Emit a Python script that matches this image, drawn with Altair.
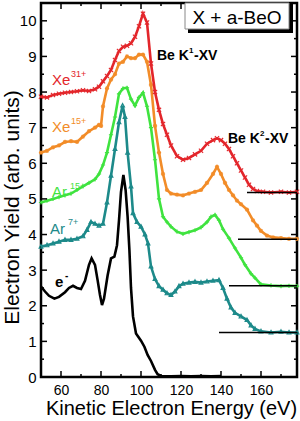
import altair as alt
import pandas as pd

# ---------------- data ----------------
red_x = [50, 53, 56, 59, 62, 65, 68, 71, 74, 77, 79, 81, 83, 85, 87, 89, 91, 93, 95, 97, 99, 101, 103,
         105, 107, 109, 111, 113, 115, 118, 121, 124, 127, 130, 133, 136, 138, 140, 142, 144, 146, 148,
         150, 152, 154, 156, 158, 161, 165, 170, 174, 178]
red_y = [7.87, 7.85, 7.92, 7.95, 7.98, 8.0, 8.02, 8.05, 8.03, 8.08, 8.15, 8.3, 8.45, 8.62, 8.9, 9.15,
         9.27, 9.3, 9.37, 9.55, 9.85, 10.2, 9.95, 8.8, 8.0, 7.5, 7.1, 6.8, 6.5, 6.2, 6.1, 6.15, 6.25,
         6.35, 6.55, 6.65, 6.7, 6.65, 6.55, 6.4, 6.2, 6.0, 5.8, 5.6, 5.4, 5.28, 5.22, 5.2, 5.18, 5.2,
         5.18, 5.2]

orange_x = [50, 53, 56, 59, 62, 65, 68, 71, 74, 77, 79, 80, 81, 83, 85, 87, 89, 91, 93, 95, 97, 99,
            101, 103, 105, 107, 109, 111, 113, 115, 118, 121, 124, 127, 130, 133, 136, 138, 140, 142,
            144, 146, 148, 150, 153, 156, 158, 160, 163, 166, 170, 174, 178]
orange_y = [6.3, 6.35, 6.45, 6.5, 6.6, 6.62, 6.6, 6.75, 6.9, 7.0, 7.08, 7.05, 7.6, 8.1, 8.35, 8.5,
            8.8, 8.85, 9.0, 8.95, 8.95, 9.05, 9.05, 8.85, 8.2, 7.05, 6.3, 5.7, 5.25, 5.15, 5.12, 5.1,
            5.15, 5.2, 5.25, 5.45, 5.7, 5.9, 5.7, 5.45, 5.25, 5.1, 4.95, 4.85, 4.7, 4.4, 4.25, 4.1,
            3.97, 3.92, 3.9, 3.88, 3.88]

green_x = [50, 53, 56, 59, 62, 65, 68, 71, 74, 77, 79, 81, 83, 85, 87, 89, 91, 93, 95, 97, 99, 101,
           103, 105, 107, 109, 111, 113, 115, 118, 121, 124, 127, 130, 133, 135, 137, 139, 141, 144,
           147, 150, 152, 155, 157, 160, 165, 170, 174, 178]
green_y = [4.9, 4.95, 5.0, 5.05, 5.1, 5.15, 5.25, 5.35, 5.45, 5.55, 5.7, 5.95, 6.3, 6.8, 7.3, 7.95,
           8.1, 8.12, 7.8, 7.62, 7.85, 7.98, 7.6, 7.0, 6.1, 5.0, 4.5, 4.35, 4.22, 4.08, 4.02, 4.07,
           4.12, 4.2, 4.35, 4.5, 4.55, 4.4, 4.15, 3.9, 3.62, 3.35, 3.15, 2.9, 2.78, 2.6, 2.57, 2.55,
           2.56, 2.55]

teal_x = [50, 53, 56, 59, 62, 65, 68, 71, 73, 75, 77, 79, 81, 83, 85, 87, 89, 90.8, 92, 93.3, 95, 96,
          98, 100, 102, 103.5, 105, 107, 109, 111, 113, 115, 117, 119, 121, 124, 127, 130, 133, 136,
          139, 141, 143, 145, 147, 150, 153, 155, 157, 160, 165, 170, 174, 178]
teal_y = [3.66, 3.7, 3.75, 3.8, 3.85, 3.85, 3.88, 3.95, 4.13, 4.35, 4.3, 4.25, 4.3, 4.9, 5.65, 6.4,
          7.15, 7.62, 7.3, 6.3, 5.35, 4.6, 4.35, 4.22, 4.0, 3.75, 3.1, 2.75, 2.55, 2.45, 2.35, 2.3,
          2.4, 2.55, 2.62, 2.65, 2.67, 2.65, 2.68, 2.7, 2.72, 2.5, 2.2, 1.95, 1.8, 1.7, 1.6, 1.45,
          1.35, 1.28, 1.25, 1.27, 1.25, 1.25]

black_x = [50, 52, 54, 56.7, 59, 62, 64, 66, 68, 70, 72, 74, 75.3, 77, 78.3, 79.5, 80.5, 81.5, 83.3,
           85, 86.7, 88, 89, 90, 91.2, 92.3, 93.3, 94.2, 95, 96, 97.5, 100, 101.7, 103.3, 105, 107,
           108.3, 110, 115, 120, 125, 130, 135, 140]
black_y = [2.54, 2.4, 2.28, 2.2, 2.25, 2.38, 2.5, 2.56, 2.5, 2.47, 2.7, 3.15, 3.33, 3.15, 2.72, 2.3,
           2.02, 2.2, 2.85, 3.33, 3.38, 3.7, 4.4, 5.2, 5.67, 5.25, 4.5, 3.57, 2.5, 1.7, 1.22, 1.02,
           0.85, 0.62, 0.45, 0.2, 0.08, 0.03, 0.02, 0.03, 0.02, 0.03, 0.02, 0.03]

base_start = [153, 148.5, 144, 139]
base_level = [5.18, 3.87, 2.56, 1.25]
base_end = [178, 178, 178, 178]

x_major = [60, 80, 100, 120, 140, 160]
x_minor = [50, 70, 90, 110, 130, 150, 170]
y_major = [0, 1, 2, 3, 4, 5, 6, 7, 8, 9, 10]
y_minor = [0.5, 1.5, 2.5, 3.5, 4.5, 5.5, 6.5, 7.5, 8.5, 9.5, 10.5]

RED, ORANGE, GREEN, TEAL = "#e3262b", "#f28c28", "#3fe33f", "#1d8a8a"
FONT = "Liberation Sans"
W, H = 256, 374

XS = alt.Scale(domain=[50, 178], nice=False, zero=False)
YS = alt.Scale(domain=[0, 10.5], nice=False, zero=False)

XAX = alt.Axis(values=x_major, ticks=False, tickSize=0, domain=False, grid=False,
               labelFontSize=14, labelPadding=6, labelColor="black", labelFont=FONT,
               title="Kinetic Electron Energy (eV)", titleFontSize=20, titleFontWeight="normal",
               titleFont=FONT, titleColor="black", titleX=130, titleY=37, titleAlign="center",
               titleBaseline="alphabetic")
YAX = alt.Axis(values=y_major, ticks=False, tickSize=0, domain=False, grid=False,
               labelFontSize=15, labelPadding=5, labelColor="black", labelFont=FONT,
               title="Electron Yield (arb. units)", titleFontSize=21, titleFontWeight="normal",
               titleFont=FONT, titleColor="black", titleX=-23, titleY=204, titleAngle=270,
               titleAlign="center", titleBaseline="alphabetic")


def X(field):
    return alt.X(field, scale=XS, axis=XAX, title="Kinetic Electron Energy (eV)")


def Y(field):
    return alt.Y(field, scale=YS, axis=YAX, title="Electron Yield (arb. units)")


X_SHAPE = "M-1,-1L1,1M-1,1L1,-1"
STAR = "M0,-1L0,1M-1,0L1,0M-0.7,-0.7L0.7,0.7M-0.7,0.7L0.7,-0.7"
PLUS = "M0,-1L0,1M-1,0L1,0"
TRI = "M0,-1L0.9,0.7L-0.9,0.7Z"


def series(xs, ys, color, shape):
    df = pd.DataFrame({"e": xs, "v": ys})
    line = alt.Chart(df).mark_line(color=color, strokeWidth=2.6).encode(x=X("e:Q"), y=Y("v:Q"))
    if shape is None:
        return [line]
    pts = alt.Chart(df).mark_point(shape=shape, color=color, filled=False, size=18,
                                   strokeWidth=1.1, opacity=1).encode(x=X("e:Q"), y=Y("v:Q"))
    return [line, pts]


layers = []
layers += series(black_x, black_y, "black", None)
layers += series(teal_x, teal_y, TEAL, TRI)
layers += series(green_x, green_y, GREEN, PLUS)
layers += series(orange_x, orange_y, ORANGE, STAR)
layers += series(red_x, red_y, RED, X_SHAPE)

# baselines
bdf = pd.DataFrame({"e": base_start, "e2": base_end, "v": base_level})
layers.append(alt.Chart(bdf).mark_rule(color="black", strokeWidth=1.5).encode(
    x=X("e:Q"), x2="e2:Q", y=Y("v:Q")))


# inward ticks
def xticks(vals, length):
    df = pd.DataFrame({"e": vals})
    b = alt.Chart(df).mark_rule(color="black", strokeWidth=1.5).encode(
        x=X("e:Q"), y=alt.value(H), y2=alt.value(H - length))
    t = alt.Chart(df).mark_rule(color="black", strokeWidth=1.5).encode(
        x=X("e:Q"), y=alt.value(0), y2=alt.value(length))
    return [b, t]


def yticks(vals, length):
    df = pd.DataFrame({"v": vals})
    l = alt.Chart(df).mark_rule(color="black", strokeWidth=1.5).encode(
        y=Y("v:Q"), x=alt.value(0), x2=alt.value(length))
    r = alt.Chart(df).mark_rule(color="black", strokeWidth=1.5).encode(
        y=Y("v:Q"), x=alt.value(W), x2=alt.value(W - length))
    return [l, r]


layers += xticks(x_major, 6) + xticks(x_minor, 3) + yticks(y_major, 6) + yticks(y_minor, 3)


def txt(text, x, y, color, size, weight="normal", align="left"):
    return alt.Chart(pd.DataFrame({"a": [0]})).mark_text(
        text=text, color=color, fontSize=size, fontWeight=weight, align=align,
        baseline="alphabetic", font=FONT).encode(x=alt.value(x), y=alt.value(y))


labels = [
    txt("Xe", 11, 82, RED, 15), txt("31+", 30, 74, RED, 9),
    txt("Xe", 11, 129, ORANGE, 15), txt("15+", 30, 121, ORANGE, 9),
    txt("Ar", 11, 194, GREEN, 15), txt("15+", 29, 186, GREEN, 9),
    txt("Ar", 9, 231, TEAL, 15), txt("7+", 27, 222, TEAL, 9),
    txt("e", 14, 284, "black", 15, "bold"), txt("-", 24, 276, "black", 10, "bold"),
    txt("Be K", 116, 57, "black", 14, "bold"), txt("1", 148, 50, "black", 8, "bold"),
    txt("-XV", 153, 57, "black", 14, "bold"),
    txt("Be K", 187, 140, "black", 14, "bold"), txt("2", 219, 133, "black", 8, "bold"),
    txt("-XV", 224, 140, "black", 14, "bold"),
]
layers += labels

# title box with shadow
one = pd.DataFrame({"a": [0]})
shadow = alt.Chart(one).mark_rect(color="black").encode(
    x=alt.value(147), x2=alt.value(252), y=alt.value(0), y2=alt.value(30))
box = alt.Chart(one).mark_rect(color="white", stroke="#888888", strokeWidth=1).encode(
    x=alt.value(144), x2=alt.value(248), y=alt.value(0), y2=alt.value(26))
layers += [shadow, box, txt("X + a-BeO", 196, 21, "black", 19, align="center")]

chart = alt.layer(*layers).properties(
    width=W, height=H,
    padding={"left": 41, "top": 3, "right": 3, "bottom": 44},
    autosize=alt.AutoSizeParams(type="none"),
).configure(font=FONT).configure_view(stroke="black", strokeWidth=2.5)

chart.save("out.html", embed_options={"renderer": "svg", "actions": False})
